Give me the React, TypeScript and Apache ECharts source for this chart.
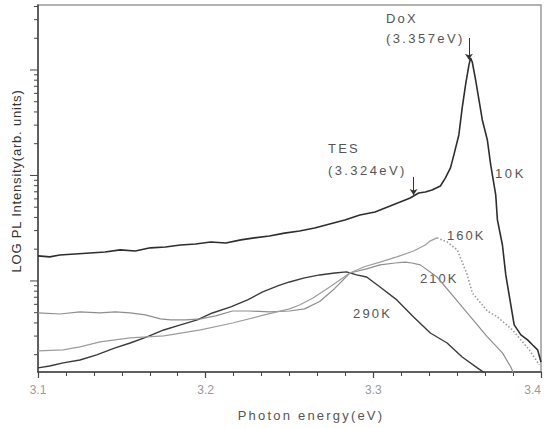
import React, { useEffect, useRef } from "react";
import * as echarts from "echarts";

// ---- Data (photon energy in eV, PL intensity in arb. units) ----
const energy10K = [3.100,3.107,3.113,3.122,3.131,3.140,3.149,3.158,3.167,3.176,3.185,3.194,3.203,3.212,3.221,3.229,3.238,3.247,3.256,3.265,3.274,3.283,3.292,3.301,3.310,3.316,3.322,3.327,3.331,3.335,3.340,3.343,3.346,3.348,3.351,3.353,3.355,3.357,3.358,3.359,3.361,3.363,3.365,3.368,3.370,3.373,3.374,3.377,3.379,3.382,3.384,3.388,3.392,3.395,3.398,3.400];
const intensity10K = [17.3,16.9,17.6,18.0,18.4,18.8,19.7,19.2,20.6,21.0,21.9,22.4,23.4,22.9,24.5,25.6,26.7,28.4,29.7,31.8,34.7,37.9,42.2,45.1,51.3,56.0,61.2,68.2,69.8,72.9,79.4,94.8,118,156,242,437,721,1112,1300,1190,805,520,336,217,126,65.3,37.9,21.9,11.4,5.92,3.83,3.08,2.76,2.47,2.22,1.70];

const energy160K = [3.100,3.115,3.125,3.137,3.155,3.175,3.197,3.216,3.235,3.250,3.256,3.264,3.274,3.286,3.295,3.304,3.314,3.324,3.331,3.334,3.338];
const intensity160K = [2.17,2.22,2.37,2.64,2.88,3.02,3.43,3.99,4.76,5.43,5.92,6.89,8.77,11.9,13.7,15.1,16.9,19.2,21.9,24.0,25.6];
const energy160KTail = [3.338,3.344,3.350,3.353,3.356,3.359,3.364,3.368,3.374,3.383,3.393,3.399];
const intensity160KTail = [25.6,23.4,19.7,15.1,11.4,7.70,6.18,5.19,4.56,3.43,2.22,1.60];

const energy210K = [3.100,3.113,3.125,3.137,3.146,3.155,3.164,3.173,3.179,3.188,3.197,3.206,3.216,3.226,3.238,3.250,3.259,3.268,3.277,3.286,3.296,3.304,3.313,3.319,3.323,3.328,3.338,3.348,3.358,3.368,3.377,3.382,3.384];
const intensity210K = [4.97,4.86,5.08,4.97,5.08,4.97,4.76,4.37,4.27,4.27,4.37,4.66,5.19,5.19,5.08,5.19,5.43,6.39,8.49,11.9,13.0,14.2,14.8,15.1,14.8,14.2,10.9,7.05,4.56,2.95,2.08,1.53,1.29];

const energy290K = [3.100,3.107,3.115,3.125,3.135,3.146,3.155,3.165,3.175,3.185,3.195,3.204,3.215,3.225,3.234,3.243,3.250,3.259,3.268,3.277,3.284,3.290,3.296,3.304,3.314,3.324,3.334,3.344,3.353,3.362,3.368];
const intensity290K = [1.50,1.56,1.67,1.78,1.99,2.32,2.58,2.95,3.43,3.83,4.27,4.97,5.67,6.61,7.87,8.97,9.78,10.7,11.4,11.9,12.2,11.4,10.9,8.77,6.61,4.56,3.21,2.58,1.90,1.50,1.29];

// axis structure
const xTicks = [3.1, 3.2, 3.3, 3.4];
const yMin = 1.37;
const yMax = 4130;
const yDecades = [1, 10, 100, 1000];
const yMinorMultipliers = [2, 3, 4, 5, 6, 7, 8, 9];

// annotation arrows: [energy, start intensity, tip intensity]
const doxArrow = [3.357, 2010, 1250];
const tesArrow = [3.324, 96.8, 65.3];

const zip = (xs: number[], ys: number[]) =>
  xs.slice(0, Math.min(xs.length, ys.length)).map((x, i) => [x, ys[i]]);

const FONT = "'Liberation Sans', Arial, Helvetica, sans-serif";

const spacing: Record<string, number> = {
  "DoX": 2.2,
  "(3.357eV)": 2.4,
  "TES": 2.2,
  "(3.324eV)": 2.4,
  "10K": 2.6,
  "160K": 2.0,
  "210K": 2.0,
  "290K": 2.2,
  "Photon energy(eV)": 2.2,
  "LOG PL Intensity(arb. units)": 0.8,
};

export default function App() {
  const ref = useRef<HTMLDivElement>(null);

  useEffect(() => {
    if (!ref.current) return;
    const chart = echarts.init(ref.current, undefined, { renderer: "svg" });

    const tickData: number[][] = [];
    yDecades.forEach((d) => {
      if (d >= yMin && d <= yMax) tickData.push([xTicks[0], d, 8]);
      yMinorMultipliers.forEach((m) => {
        const v = m * d;
        if (v >= yMin && v <= yMax) tickData.push([xTicks[0], v, 4]);
      });
    });

    const annot = (text: string, x: number, y: number, size = 13) => ({
      type: "text",
      x,
      y,
      silent: true,
      style: {
        text,
        fill: "#555",
        font: `${size}px ${FONT}`,
        textAlign: "left",
        textVerticalAlign: "middle",
      },
    });

    const option: any = {
      animation: false,
      backgroundColor: "#fff",
      grid: {
        left: 38,
        right: 4,
        top: 5,
        bottom: 56,
        show: true,
        borderColor: "#999",
        borderWidth: 1.5,
        containLabel: false,
        outerBoundsMode: "none",
      },
      xAxis: {
        type: "value",
        min: xTicks[0],
        max: xTicks[xTicks.length - 1],
        interval: 0.1,
        axisLine: { show: true, lineStyle: { color: "#444", width: 1.5 } },
        axisTick: { show: true, inside: false, length: 6, lineStyle: { color: "#444", width: 1.2 } },
        minorTick: { show: true, splitNumber: 6, length: 4, lineStyle: { color: "#444", width: 1 } },
        splitLine: { show: false },
        minorSplitLine: { show: false },
        axisLabel: {
          formatter: (v: number) => v.toFixed(1),
          color: "#9a9a9a",
          fontSize: 12,
          fontFamily: FONT,
          margin: 12,
          hideOverlap: false,
          alignMaxLabel: "right",
        },
      },
      yAxis: {
        type: "log",
        logBase: 10,
        min: yMin,
        max: yMax,
        axisLine: { show: true, lineStyle: { color: "#444", width: 1.5 } },
        axisTick: { show: false },
        axisLabel: { show: false },
        splitLine: { show: false },
      },
      series: [
        {
          type: "custom",
          name: "yticks",
          silent: true,
          clip: false,
          data: tickData,
          renderItem: (params: any, api: any) => {
            const p = api.coord([api.value(0), api.value(1)]);
            const len = api.value(2);
            return {
              type: "line",
              shape: { x1: p[0] - len, y1: p[1], x2: p[0], y2: p[1] },
              style: { stroke: "#444", lineWidth: 1 },
            };
          },
        },
        {
          type: "line",
          name: "290K",
          data: zip(energy290K, intensity290K),
          showSymbol: false,
          lineStyle: { color: "#3a3a3a", width: 1.4 },
          clip: true,
        },
        {
          type: "line",
          name: "210K",
          data: zip(energy210K, intensity210K),
          showSymbol: false,
          lineStyle: { color: "#8e8e8e", width: 1.2 },
          clip: true,
        },
        {
          type: "line",
          name: "160K",
          data: zip(energy160K, intensity160K),
          showSymbol: false,
          lineStyle: { color: "#9c9c9c", width: 1.2 },
          clip: true,
        },
        {
          type: "line",
          name: "160K tail",
          data: zip(energy160KTail, intensity160KTail),
          showSymbol: false,
          lineStyle: { color: "#9a9a9a", width: 1.6, type: [1.5, 2] },
          clip: true,
        },
        {
          type: "line",
          name: "10K",
          data: zip(energy10K, intensity10K),
          showSymbol: false,
          lineStyle: { color: "#2e2e2e", width: 1.6 },
          clip: true,
          markLine: {
            silent: true,
            symbol: ["none", "arrow"],
            symbolSize: 6,
            label: { show: false },
            lineStyle: { color: "#333", type: "solid", width: 1 },
            data: [
              [{ coord: [doxArrow[0], doxArrow[1]] }, { coord: [doxArrow[0], doxArrow[2]] }],
              [{ coord: [tesArrow[0], tesArrow[1]] }, { coord: [tesArrow[0], tesArrow[2]] }],
            ],
          },
        },
      ],
      graphic: [
        annot("DoX", 386, 18),
        annot("(3.357eV)", 386, 38),
        annot("TES", 328, 148),
        annot("(3.324eV)", 328, 170),
        annot("10K", 495, 173),
        annot("160K", 447, 235),
        annot("210K", 420, 278),
        annot("290K", 353, 313),
        {
          type: "text",
          x: 311,
          y: 415,
          silent: true,
          style: {
            text: "Photon energy(eV)",
            fill: "#555",
            font: `13px ${FONT}`,
            textAlign: "center",
            textVerticalAlign: "middle",
          },
        },
        {
          type: "text",
          x: 16,
          y: 181,
          rotation: Math.PI / 2,
          silent: true,
          style: {
            text: "LOG PL Intensity(arb. units)",
            fill: "#333",
            font: `13px ${FONT}`,
            textAlign: "center",
            textVerticalAlign: "middle",
          },
        },
      ],
    };

    chart.setOption(option);

    const applySpacing = () => {
      if (!ref.current) return;
      ref.current.querySelectorAll("text").forEach((t) => {
        const s = spacing[(t.textContent || "").trim()];
        if (s) (t as SVGTextElement).style.letterSpacing = `${s}px`;
      });
    };
    applySpacing();
    chart.on("finished", applySpacing);
    const raf = requestAnimationFrame(applySpacing);

    return () => {
      cancelAnimationFrame(raf);
      chart.dispose();
    };
  }, []);

  return (
    <div
      ref={ref}
      style={{ position: "fixed", left: 0, top: 0, width: 545, height: 428, background: "#fff" }}
    />
  );
}
